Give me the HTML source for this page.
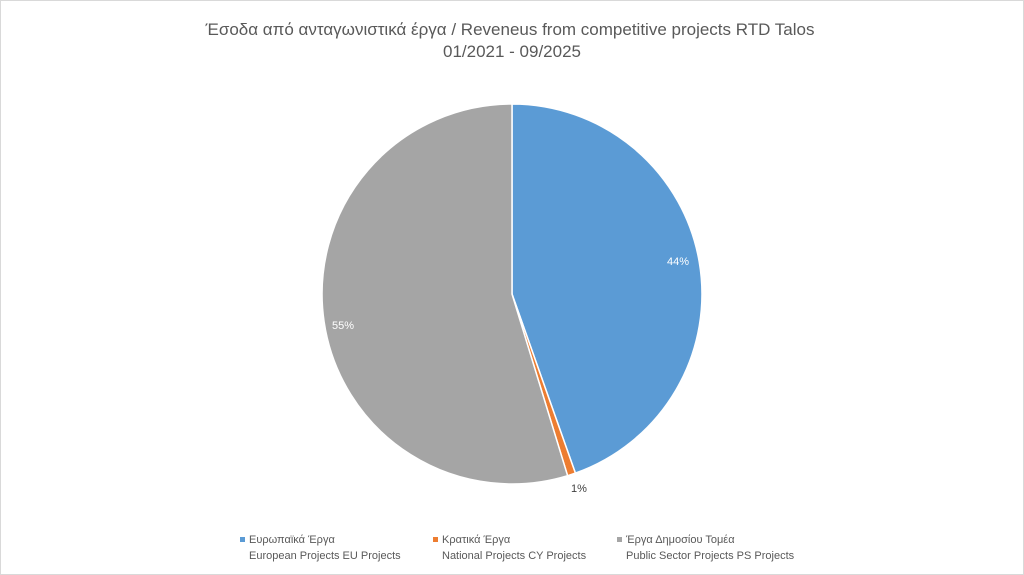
<!DOCTYPE html>
<html><head><meta charset="utf-8"><style>
html,body{margin:0;padding:0;background:#fff}
svg{display:block}
text{font-family:"Liberation Sans","DejaVu Sans",sans-serif;fill:#595959}
</style></head><body>
<svg width="1024" height="575" viewBox="0 0 1024 575" xmlns="http://www.w3.org/2000/svg">
<rect x="0.5" y="0.5" width="1023" height="574" fill="#fff" stroke="#d9d9d9"/>
<text x="510" y="35" font-size="17" text-anchor="middle">Έσοδα από ανταγωνιστικά έργα / Reveneus from competitive projects RTD Talos</text>
<text x="512" y="57" font-size="17" text-anchor="middle">01/2021 - 09/2025</text>
<g stroke="#fff" stroke-width="1.5" stroke-linejoin="round">
<path d="M512,294 L512,104 A190,190 0 0 1 575.4,473.1 Z" fill="#5B9BD5"/>
<path d="M512,294 L575.4,473.1 A190,190 0 0 1 567.6,475.7 Z" fill="#ED7D31"/>
<path d="M512,294 L567.6,475.7 A190,190 0 1 1 512,104 Z" fill="#A5A5A5"/>
</g>
<text x="678" y="265" font-size="11" text-anchor="middle" style="fill:#fff">44%</text>
<text x="343" y="329" font-size="11" text-anchor="middle" style="fill:#fff">55%</text>
<text x="579" y="492" font-size="11" text-anchor="middle" style="fill:#404040">1%</text>
<g font-size="11">
<rect x="240" y="537" width="5" height="5" fill="#5B9BD5"/>
<text x="249" y="543">Ευρωπαϊκά Έργα</text>
<text x="249" y="559">European Projects EU Projects</text>
<rect x="433" y="537" width="5" height="5" fill="#ED7D31"/>
<text x="442" y="543">Κρατικά Έργα</text>
<text x="442" y="559">National Projects CY Projects</text>
<rect x="617" y="537" width="5" height="5" fill="#A5A5A5"/>
<text x="626" y="543">Έργα Δημοσίου Τομέα</text>
<text x="626" y="559">Public Sector Projects PS Projects</text>
</g>
</svg>
</body></html>
